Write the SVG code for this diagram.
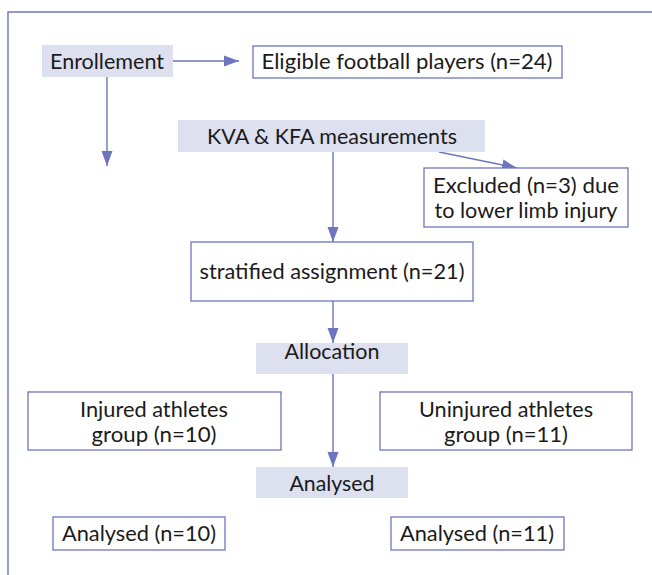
<svg xmlns="http://www.w3.org/2000/svg" width="652" height="575" viewBox="0 0 652 575">
<style>
.box{fill:#ffffff;stroke:#6c75bd;stroke-width:1.3}
.hdr{fill:#dde0ef;stroke:none}
.t{font-family:Lato,"Open Sans","Liberation Sans",sans-serif;font-size:21.5px;fill:#1a1a1a;text-anchor:middle}
.c{stroke:#6c75bd;stroke-width:1.4;fill:none}
</style>
<defs>
<marker id="ah" markerUnits="userSpaceOnUse" markerWidth="15" markerHeight="12" viewBox="0 0 15 12" refX="15" refY="6" orient="auto">
<path d="M0,0.5 L15,6 L0,11.5 Z" fill="#6c75bd"/>
</marker>
</defs>
<rect width="652" height="575" fill="#ffffff"/>
<g id="frame"><path class="c" d="M8,575 V12 H652"/></g>
<g id="connectors">
<path class="c" d="M173,61 H239" marker-end="url(#ah)"/>
<path class="c" d="M107,77 V166" marker-end="url(#ah)"/>
<path class="c" d="M333,152 V242" marker-end="url(#ah)"/>
<path class="c" d="M439,152 L517,168" marker-end="url(#ah)"/>
<path class="c" d="M333,301 V343" marker-end="url(#ah)"/>
<path class="c" d="M333,374 V467" marker-end="url(#ah)"/>
</g>
<g id="enrollment"><rect class="hdr" x="42" y="45" width="131" height="32"/><text class="t" x="107" y="69" textLength="114" lengthAdjust="spacingAndGlyphs">Enrollement</text></g>
<g id="eligible"><rect class="box" x="253" y="46" width="309" height="32"/><text class="t" x="407" y="69" textLength="291" lengthAdjust="spacingAndGlyphs">Eligible football players (n=24)</text></g>
<g id="measurements"><rect class="hdr" x="178" y="120" width="307" height="32"/><text class="t" x="332" y="144" textLength="250" lengthAdjust="spacingAndGlyphs">KVA &amp; KFA measurements</text></g>
<g id="excluded"><rect class="box" x="424" y="168" width="204" height="59"/><text class="t" x="526" y="193" textLength="186" lengthAdjust="spacingAndGlyphs">Excluded (n=3) due</text><text class="t" x="526" y="218" textLength="183" lengthAdjust="spacingAndGlyphs">to lower limb injury</text></g>
<g id="stratified"><rect class="box" x="191" y="242" width="282" height="59"/><text class="t" x="332" y="279" textLength="265" lengthAdjust="spacingAndGlyphs">stratified assignment (n=21)</text></g>
<g id="allocation"><rect class="hdr" x="256" y="343" width="152" height="31"/><text class="t" x="332" y="359" textLength="95" lengthAdjust="spacingAndGlyphs">Allocation</text></g>
<g id="injured"><rect class="box" x="28" y="392" width="253" height="58"/><text class="t" x="154" y="417" textLength="148" lengthAdjust="spacingAndGlyphs">Injured athletes</text><text class="t" x="154" y="442" textLength="125" lengthAdjust="spacingAndGlyphs">group (n=10)</text></g>
<g id="uninjured"><rect class="box" x="380" y="392" width="252" height="58"/><text class="t" x="506" y="417" textLength="174" lengthAdjust="spacingAndGlyphs">Uninjured athletes</text><text class="t" x="506" y="442" textLength="124" lengthAdjust="spacingAndGlyphs">group (n=11)</text></g>
<g id="analysed"><rect class="hdr" x="256" y="467" width="152" height="31"/><text class="t" x="332" y="491" textLength="85" lengthAdjust="spacingAndGlyphs">Analysed</text></g>
<g id="analysed10"><rect class="box" x="53" y="517" width="172" height="33"/><text class="t" x="139" y="541" textLength="154" lengthAdjust="spacingAndGlyphs">Analysed (n=10)</text></g>
<g id="analysed11"><rect class="box" x="391" y="517" width="173" height="33"/><text class="t" x="477" y="541" textLength="154" lengthAdjust="spacingAndGlyphs">Analysed (n=11)</text></g>
</svg>
